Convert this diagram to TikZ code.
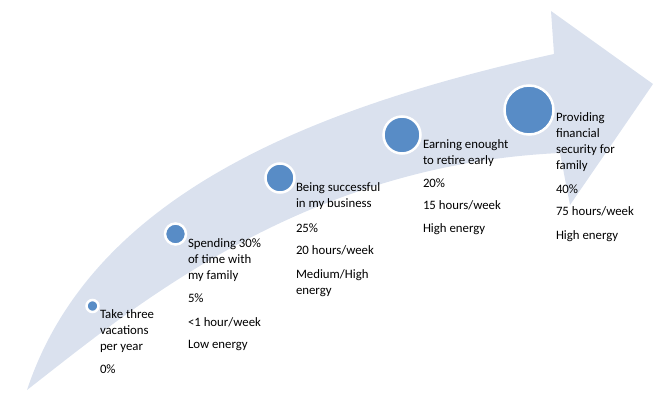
\documentclass[tikz,border=0pt]{standalone}
\usepackage{fontspec}
\setmainfont{Carlito}
\definecolor{bandfill}{RGB}{218,225,238}
\definecolor{dotblue}{RGB}{88,140,198}
\begin{document}
\begin{tikzpicture}[x=1pt,y=-1pt,
  dot/.style={circle,fill=dotblue,draw=white,line width=2.5pt,inner sep=0pt,outer sep=0pt},
  label/.style={anchor=north west,align=left,inner sep=0pt,outer sep=0pt,
    font=\fontsize{12.8}{16}\selectfont,text=black}]
\useasboundingbox (0,0) rectangle (661,393);

% curved arrow band
\fill[bandfill] (27,390) .. controls (90,200) and (300,110) .. (554,54)
  -- (551,11) -- (653,84) -- (570,205) -- (560,153)
  .. controls (300,165) and (130,310) .. (27,390) -- cycle;

% milestones along the band
\node[dot,minimum size=12pt] (m1) at (92.5,306) {};
\node[dot,minimum size=21pt] (m2) at (175.5,234) {};
\node[dot,minimum size=29pt] (m3) at (280,178) {};
\node[dot,minimum size=37pt] (m4) at (402,135) {};
\node[dot,minimum size=49pt] (m5) at (529,110) {};

% descriptions, each starting on a strut so the first baseline is fixed
\node[label] (t1) at (100,307) {\strut Take three\\vacations\\per year\\[7pt]0\%};
\node[label] (t2) at (188,236) {\strut Spending 30\%\\of time with\\my family\\[7pt]5\%\\[8pt]<1 hour/week\\[6pt]Low energy};
\node[label] (t3) at (296,180) {\strut Being successful\\in my business\\[9pt]25\%\\[6pt]20 hours/week\\[8pt]Medium/High\\energy};
\node[label] (t4) at (423,137) {\strut Earning enought\\to retire early\\[7pt]20\%\\[6pt]15 hours/week\\[7pt]High energy};
\node[label] (t5) at (556,110) {\strut Providing\\financial\\security for\\family\\[8pt]40\%\\[6pt]75 hours/week\\[8pt]High energy};
\end{tikzpicture}
\end{document}
